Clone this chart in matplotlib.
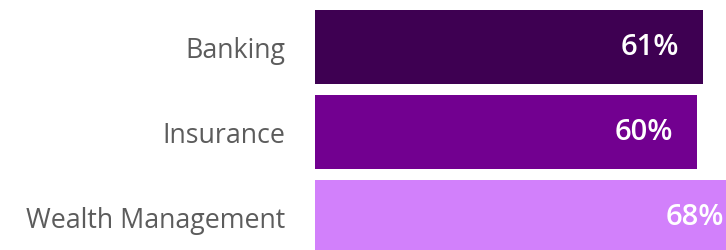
import matplotlib
matplotlib.use("Agg")
import matplotlib.pyplot as plt

categories = ["Banking", "Insurance", "Wealth Management"]
values = [61, 60, 68]
colors = ["#3e0052", "#720090", "#d280fb"]

fig = plt.figure(figsize=(7.26, 2.5), dpi=100)
ax = fig.add_axes([315 / 726, 0, 1 - 315 / 726, 1])

y = range(len(categories))
ax.barh(y, values, height=0.87, color=colors)

# the last bar runs past the right edge, as in the original
ax.set_xlim(0, 64.6)
ax.set_ylim(2.388, -0.553)

for yi, v in zip(y, values):
    ax.annotate(f"{v}%", (v, yi), xytext=(-24 * 0.72, 0), textcoords="offset points",
                ha="right", va="center", color="white", fontsize=21,
                fontweight="semibold", family="Open Sans", annotation_clip=False)

ax.set_yticks(list(y))
ax.set_yticklabels(categories, fontsize=19.3, color="#5c5c5c", family="Open Sans")
ax.tick_params(axis="y", length=0, pad=30 * 0.72)
ax.set_xticks([])
for s in ax.spines.values():
    s.set_visible(False)

fig.savefig("out.png", dpi=100)
